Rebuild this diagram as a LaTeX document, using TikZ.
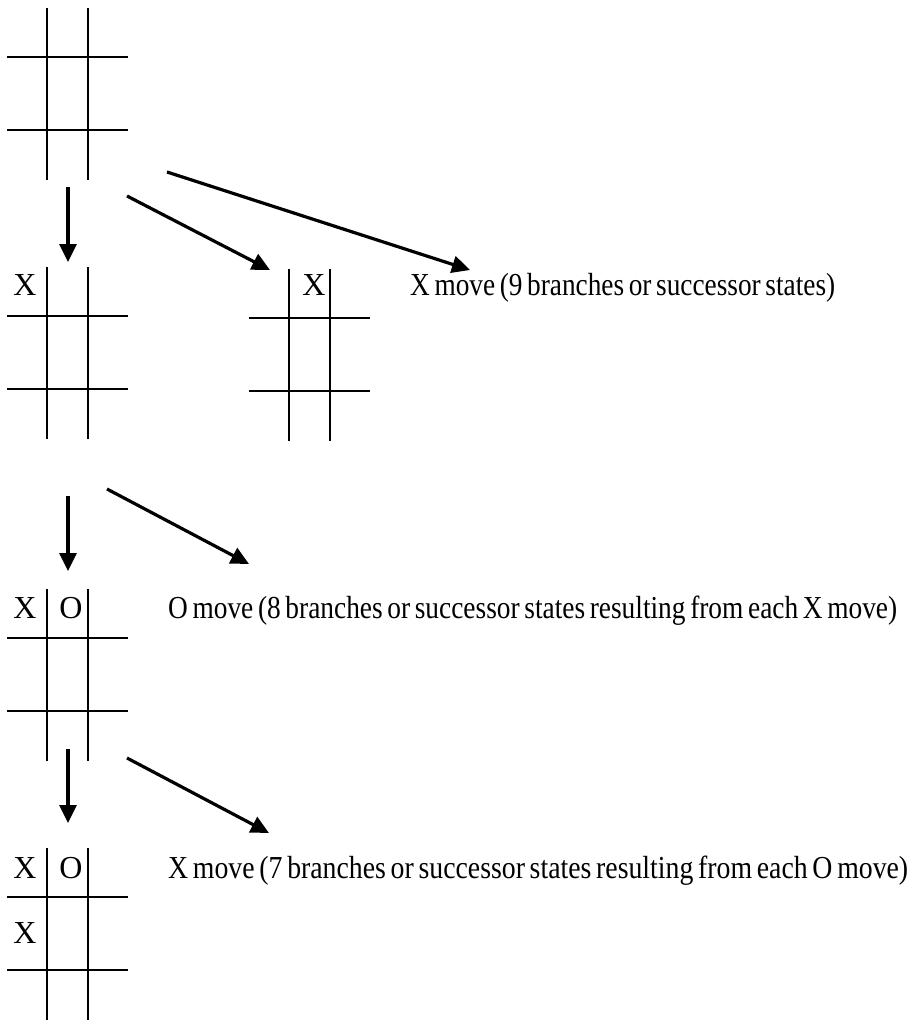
\documentclass[tikz,border=0pt]{standalone}
\usepackage{fontspec}
\setmainfont{Liberation Serif}
\usetikzlibrary{arrows.meta}
\tikzset{
  boardline/.style={line width=2pt, line cap=butt},
  movearrow/.style={line width=3.2pt, -{Triangle[length=18pt,width=17pt]}},
  cell/.style={anchor=base, inner sep=0pt, font=\fontsize{32}{38}\selectfont},
  caption/.style={anchor=base west, inner sep=0pt, font=\fontsize{32}{38}\selectfont},
  board/.pic={
    \draw[boardline] (0,0) -- (0,172) (41,0) -- (41,172)
      (-40,49) -- (81,49) (-40,122) -- (81,122);
  }
}
\newcommand{\captxt}[2]{\resizebox{#1pt}{\height}{\spaceskip=0.17em\relax #2}}
\begin{document}
\begin{tikzpicture}[x=1pt,y=-1pt]
\useasboundingbox (0,0) rectangle (912,1021);
% boards
\pic (b1) at (47,8) {board};
\pic (b2) at (47,267) {board};
\pic (b3) at (289,269) {board};
\pic (b4) at (47,589) {board};
\pic (b5) at (47,848) {board};
% marks
\node[cell] (b2x) at (25,295) {X};
\node[cell] (b3x) at (314,295) {X};
\node[cell] (b4x) at (25,618) {X};
\node[cell] (b4o) at (71,618) {O};
\node[cell] (b5x) at (25,878) {X};
\node[cell] (b5o) at (71,878) {O};
\node[cell] (b5x2) at (25,943) {X};
% captions
\node[caption] (t1) at (410,295) {\captxt{425}{X move (9 branches or successor states)}};
\node[caption] (t2) at (168,618) {\captxt{729}{O move (8 branches or successor states resulting from each X move)}};
\node[caption] (t3) at (168,878) {\captxt{740}{X move (7 branches or successor states resulting from each O move)}};
% arrow end points
\coordinate (a1s) at (68,187);  \coordinate (a1e) at (68,262);
\coordinate (a2s) at (127,196); \coordinate (a2e) at (270,270);
\coordinate (a3s) at (167,172); \coordinate (a3e) at (470,270);
\coordinate (a4s) at (68,496);  \coordinate (a4e) at (68,571);
\coordinate (a5s) at (107,489); \coordinate (a5e) at (249,564);
\coordinate (a6s) at (68,749);  \coordinate (a6e) at (68,823);
\coordinate (a7s) at (127,758); \coordinate (a7e) at (269,833);
\draw[movearrow] (a1s) -- (a1e);
\draw[movearrow] (a2s) -- (a2e);
\draw[movearrow] (a3s) -- (a3e);
\draw[movearrow] (a4s) -- (a4e);
\draw[movearrow] (a5s) -- (a5e);
\draw[movearrow] (a6s) -- (a6e);
\draw[movearrow] (a7s) -- (a7e);
\end{tikzpicture}
\end{document}
